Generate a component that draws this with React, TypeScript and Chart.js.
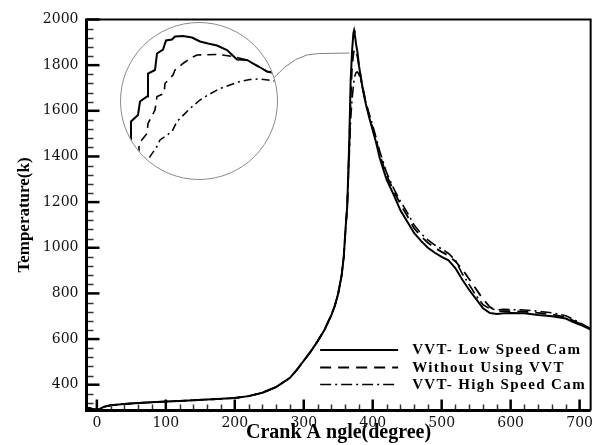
import React, { useEffect, useRef } from "react";
import { Chart, registerables } from "chart.js";

Chart.register(...registerables);

// ---------- main chart data ----------
const crankAngle = [
  -15, -5, 0, 5, 10, 20, 40, 60, 80, 100, 120, 140, 160, 180, 200, 220, 240, 260, 280, 290, 300, 310, 320, 330,
  340, 345, 350, 355, 358, 361, 363, 365, 366, 368, 370, 372, 373, 374, 376, 378, 380, 383, 386, 390, 395, 400,
  405, 410, 420, 430, 440, 450, 460, 470, 480, 490, 500, 510, 520, 530, 540, 550, 560, 570, 580, 590, 600, 620,
  640, 660, 680, 690, 700, 710, 716,
];

const lowSpeedCam = [
  300, 293, 290, 295, 303, 310, 316, 320, 323, 326, 329, 332, 335, 338, 342, 350, 365, 390, 430, 465, 505, 545, 590, 640,
  705, 745, 800, 880, 960, 1100, 1180, 1370, 1470, 1730, 1860, 1940, 1952, 1935, 1890, 1855, 1800, 1740, 1690, 1630, 1570, 1515,
  1460, 1395, 1300, 1235, 1165, 1115, 1065, 1030, 1000, 978, 960, 945, 910, 860, 815, 775, 735, 714, 710, 713, 714, 713,
  705, 700, 690, 676, 664, 650, 641,
];

const withoutVVT = [
  300, 293, 290, 295, 303, 310, 316, 320, 323, 326, 329, 332, 335, 338, 342, 350, 365, 390, 430, 465, 505, 545, 590, 640,
  705, 745, 800, 880, 960, 1100, 1180, 1360, 1440, 1650, 1790, 1850, 1865, 1870, 1860, 1835, 1800, 1745, 1695, 1635, 1578, 1525,
  1472, 1410, 1318, 1252, 1192, 1140, 1085, 1050, 1022, 1000, 982, 965, 940, 905, 862, 818, 775, 740, 722, 722, 722, 720,
  715, 708, 695, 682, 668, 652, 645,
];

const highSpeedCam = [
  300, 293, 290, 295, 303, 310, 316, 320, 323, 326, 329, 332, 335, 338, 342, 350, 365, 390, 430, 465, 505, 545, 590, 640,
  705, 745, 800, 880, 960, 1095, 1170, 1330, 1400, 1560, 1650, 1710, 1735, 1752, 1768, 1770, 1760, 1730, 1690, 1640, 1585, 1535,
  1482, 1425, 1330, 1262, 1205, 1155, 1100, 1062, 1035, 1012, 995, 975, 945, 885, 838, 790, 750, 733, 728, 730, 729, 727,
  722, 715, 702, 688, 672, 655, 646,
];

const seriesNames = ["VVT- Low Speed Cam", "Without Using VVT", "VVT- High Speed Cam"];

const xTickValues = [0, 100, 200, 300, 400, 500, 600, 700];
const yTickValues = [400, 600, 800, 1000, 1200, 1400, 1600, 1800, 2000];
const xMinorStep = 20;
const yMinorStep = 40;
const xRange = [-15, 716];
const yRange = [287, 2000];

// ---------- magnified inset data (peak region) ----------
const insetLowAngle = [367.0, 367.0, 367.0, 367.7, 367.9, 368.6, 368.7, 369.4, 369.6, 370.2, 370.5, 371.1, 371.4, 372.2, 373.1, 373.9, 374.7, 375.6, 376.6, 377.6, 378.6, 379.2, 380.1, 380.6, 381.1, 381.9];
const insetLowTemp = [1666, 1719, 1763, 1776, 1803, 1813, 1859, 1866, 1899, 1907, 1925, 1927, 1933, 1934, 1931, 1923, 1919, 1915, 1906, 1887, 1886, 1879, 1869, 1863, 1861, 1846];

const insetWithoutAngle = [367.8, 367.8, 368.6, 368.7, 369.4, 369.6, 370.3, 370.4, 371.2, 371.4, 372.2, 372.9, 373.6, 375.7, 377.2, 378.6, 379.2, 380.1, 380.6, 381.1, 381.9];
const insetWithoutTemp = [1666, 1719, 1739, 1759, 1786, 1813, 1819, 1839, 1856, 1866, 1879, 1889, 1896, 1897, 1893, 1886, 1879, 1869, 1863, 1861, 1846];

const insetHighAngle = [368.4, 368.9, 369.6, 369.9, 371.1, 371.6, 372.1, 372.9, 373.9, 374.7, 375.9, 376.9, 377.9, 378.9, 379.9, 380.7, 381.4, 381.6, 381.8];
const insetHighTemp = [1656, 1693, 1713, 1726, 1743, 1763, 1773, 1789, 1806, 1816, 1829, 1836, 1843, 1847, 1848, 1846, 1844, 1836, 1822];

const insetXRange = [366, 381.6];
const insetYRange = [1648, 1960];
const connectorTarget = { angle: 366.5, temp: 1853 };

// ---------- layout constants ----------
const W = 597;
const H = 445;
const CIRCLE = { cx: 199, cy: 101, r: 78 };

const styles = [
  { borderDash: [] as number[], borderWidth: 2 },
  { borderDash: [11, 7], borderWidth: 1.8 },
  { borderDash: [11, 4, 2, 4], borderWidth: 1.6 },
];

const tickFont = { family: "'DejaVu Serif', serif", size: 14 };

const decorPlugin = {
  id: "decor",
  afterDraw(chart: any) {
    const { ctx, chartArea: a, scales } = chart;
    const xs = scales.x;
    const ys = scales.y;
    ctx.save();
    ctx.lineWidth = 1.5;
    ctx.strokeStyle = "#333";
    for (let v = Math.ceil(yRange[0] / yMinorStep) * yMinorStep; v <= yRange[1]; v += yMinorStep) {
      if (yTickValues.includes(v)) continue;
      const py = Math.round(ys.getPixelForValue(v)) + 0.5;
      ctx.beginPath();
      ctx.moveTo(a.left, py);
      ctx.lineTo(a.left + 7, py);
      ctx.stroke();
    }
    for (let v = Math.ceil(xRange[0] / xMinorStep) * xMinorStep; v <= xRange[1]; v += xMinorStep) {
      if (xTickValues.includes(v)) continue;
      const px = Math.round(xs.getPixelForValue(v)) + 0.5;
      ctx.beginPath();
      ctx.moveTo(px, a.bottom);
      ctx.lineTo(px, a.bottom - 6);
      ctx.stroke();
    }
    ctx.strokeStyle = "#000";
    ctx.lineWidth = 2.5;
    yTickValues.forEach((v) => {
      const py = ys.getPixelForValue(v);
      ctx.beginPath();
      ctx.moveTo(a.left, py);
      ctx.lineTo(a.left + 13, py);
      ctx.stroke();
    });
    xTickValues.forEach((v) => {
      const px = xs.getPixelForValue(v);
      ctx.beginPath();
      ctx.moveTo(px, a.bottom);
      ctx.lineTo(px, a.bottom - 11);
      ctx.stroke();
    });
    // frame
    ctx.lineWidth = 2;
    ctx.beginPath();
    ctx.moveTo(a.left, a.top);
    ctx.lineTo(a.right, a.top);
    ctx.lineTo(a.right, a.bottom);
    ctx.stroke();
    ctx.lineWidth = 3;
    ctx.beginPath();
    ctx.moveTo(a.left, a.top - 1);
    ctx.lineTo(a.left, a.bottom);
    ctx.lineTo(a.right, a.bottom);
    ctx.stroke();

    // legend
    const lineX0 = a.right - 270.5;
    const lineX1 = a.right - 192.5;
    const textX = a.right - 178.5;
    const rowYs = [a.bottom - 60.5, a.bottom - 43, a.bottom - 26];
    chart.data.datasets.forEach((ds: any, i: number) => {
      const yy = rowYs[i];
      ctx.save();
      ctx.strokeStyle = ds.borderColor;
      ctx.lineWidth = ds.borderWidth;
      ctx.setLineDash(ds.borderDash || []);
      ctx.beginPath();
      ctx.moveTo(lineX0, yy);
      ctx.lineTo(lineX1, yy);
      ctx.stroke();
      ctx.restore();
      ctx.save();
      ctx.fillStyle = "#000";
      ctx.font = "bold 15px 'Liberation Serif', serif";
      (ctx as any).letterSpacing = "1.4px";
      ctx.textBaseline = "middle";
      ctx.textAlign = "left";
      ctx.fillText(ds.label, textX, yy + 0.5);
      ctx.restore();
    });

    // connector from magnifier circle to the peak
    const ang = (-17 * Math.PI) / 180;
    const sx = CIRCLE.cx + CIRCLE.r * Math.cos(ang);
    const sy = CIRCLE.cy + CIRCLE.r * Math.sin(ang);
    const ex = xs.getPixelForValue(connectorTarget.angle);
    const ey = ys.getPixelForValue(connectorTarget.temp);
    ctx.strokeStyle = "#808080";
    ctx.lineWidth = 1;
    ctx.setLineDash([]);
    ctx.beginPath();
    ctx.moveTo(sx, sy);
    ctx.quadraticCurveTo(sx + 22, ey, sx + 45, ey + 0.5);
    ctx.lineTo(ex, ey);
    ctx.stroke();
    ctx.restore();
  },
};

function toPoints(xs: number[], ys: number[]) {
  return xs.map((x, i) => ({ x, y: ys[i] }));
}

export default function App() {
  const mainRef = useRef<HTMLCanvasElement | null>(null);
  const insetRef = useRef<HTMLCanvasElement | null>(null);

  useEffect(() => {
    document.body.style.margin = "0";
    const series = [lowSpeedCam, withoutVVT, highSpeedCam];
    const main = new Chart(mainRef.current as HTMLCanvasElement, {
      type: "line",
      data: {
        datasets: series.map((s, i) => ({
          label: seriesNames[i],
          data: toPoints(crankAngle, s),
          borderColor: "#000",
          borderWidth: styles[i].borderWidth,
          borderDash: styles[i].borderDash,
          pointRadius: 0,
          tension: 0,
          fill: false,
        })),
      },
      options: {
        animation: false,
        responsive: false,
        maintainAspectRatio: false,
        layout: { padding: { top: 19.5, right: 1.5, left: 0, bottom: 0 } },
        plugins: { legend: { display: false }, tooltip: { enabled: false }, title: { display: false } },
        scales: {
          x: {
            type: "linear",
            min: xRange[0],
            max: xRange[1],
            grid: { display: false, drawTicks: false },
            border: { display: false },
            afterBuildTicks: (s: any) => {
              s.ticks = xTickValues.map((v) => ({ value: v }));
            },
            afterFit: (s: any) => {
              s.height = 34.5;
            },
            ticks: {
              padding: 4,
              font: tickFont,
              color: "#111",
              maxRotation: 0,
              autoSkip: false,
              callback: (v: any) => String(v),
            },
            title: {
              display: true,
              text: "Crank A ngle(degree)",
              color: "#000",
              font: { family: "'Liberation Serif', serif", size: 20, weight: "bold", lineHeight: 1 },
              padding: { top: 0, bottom: 2 },
            },
          },
          y: {
            type: "linear",
            min: yRange[0],
            max: yRange[1],
            grid: { display: false, drawTicks: false },
            border: { display: false },
            afterBuildTicks: (s: any) => {
              s.ticks = yTickValues.map((v) => ({ value: v }));
            },
            afterFit: (s: any) => {
              s.width = 86.5;
            },
            ticks: { padding: 8, font: tickFont, color: "#111", autoSkip: false, callback: (v: any) => String(v) },
            title: {
              display: true,
              text: "Temperature(k)",
              color: "#000",
              font: { family: "'Liberation Serif', serif", size: 17, weight: "bold", lineHeight: 1.2 },
              padding: { top: 14.3, bottom: 0 },
            },
          },
        },
      } as any,
      plugins: [decorPlugin],
    });

    const insetSeries = [
      [insetLowAngle, insetLowTemp],
      [insetWithoutAngle, insetWithoutTemp],
      [insetHighAngle, insetHighTemp],
    ];
    const insetStyles = [
      { borderDash: [] as number[], borderWidth: 2 },
      { borderDash: [9, 6], borderWidth: 1.6 },
      { borderDash: [8, 4, 2, 4], borderWidth: 1.5 },
    ];
    const inset = new Chart(insetRef.current as HTMLCanvasElement, {
      type: "line",
      data: {
        datasets: insetSeries.map((s, i) => ({
          label: seriesNames[i],
          data: toPoints(s[0], s[1]),
          borderColor: "#000",
          borderWidth: insetStyles[i].borderWidth,
          borderDash: insetStyles[i].borderDash,
          pointRadius: 0,
          tension: 0,
          fill: false,
        })),
      },
      options: {
        animation: false,
        responsive: false,
        maintainAspectRatio: false,
        layout: { padding: 0 },
        plugins: { legend: { display: false }, tooltip: { enabled: false } },
        scales: {
          x: { type: "linear", min: insetXRange[0], max: insetXRange[1], display: false },
          y: { type: "linear", min: insetYRange[0], max: insetYRange[1], display: false },
        },
      } as any,
    });

    return () => {
      main.destroy();
      inset.destroy();
    };
  }, []);

  const d = CIRCLE.r * 2;
  return (
    <div style={{ position: "fixed", left: 0, top: 0, width: W, height: H, background: "#fff", overflow: "hidden" }}>
      <canvas ref={mainRef} width={W} height={H} style={{ position: "absolute", left: 0, top: 0, width: W, height: H, display: "block" }} />
      <div
        style={{
          position: "absolute",
          left: CIRCLE.cx - CIRCLE.r - 1,
          top: CIRCLE.cy - CIRCLE.r - 1,
          width: d + 2,
          height: d + 2,
          boxSizing: "border-box",
          border: "1px solid #8a8a8a",
          borderRadius: "50%",
          overflow: "hidden",
          background: "#fff",
        }}
      >
        <canvas ref={insetRef} width={d} height={d} style={{ position: "absolute", left: 0, top: 0, width: d, height: d, display: "block" }} />
      </div>
    </div>
  );
}
